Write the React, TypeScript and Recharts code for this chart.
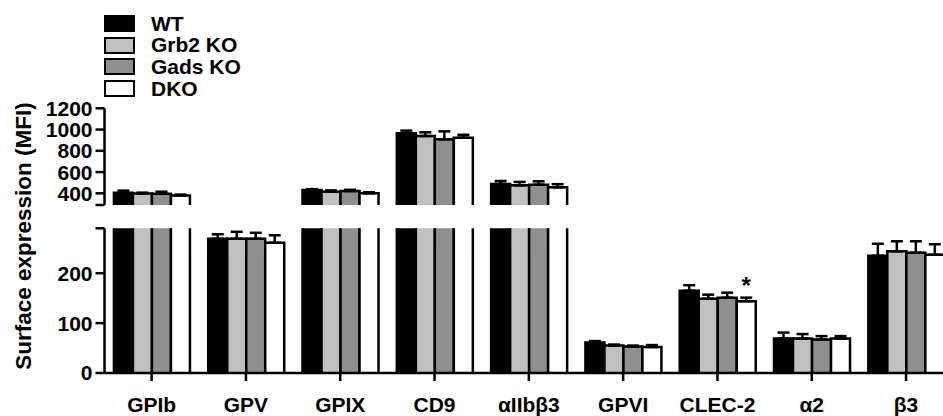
import React from 'react';
import { BarChart, Bar, XAxis, YAxis, ErrorBar, Legend, LabelList } from 'recharts';

const FONT = 'Arial, "Liberation Sans", Helvetica, sans-serif';

// axis break: lower panel 0-290, upper panel 290-1200
const BREAK = 290;
const LOWER_TICKS = [0, 100, 200, 290];
const UPPER_TICKS = [290, 400, 600, 800, 1000, 1200];

const CATEGORIES = ['GPIb', 'GPV', 'GPIX', 'CD9', 'αIIbβ3', 'GPVI', 'CLEC-2', 'α2', 'β3'];

const WT = [405, 269, 431, 965, 488, 61, 165, 69, 235];
const WT_ERR = [20, 9, 8, 25, 28, 3, 11, 12, 24];
const GRB2 = [398, 269, 415, 939, 475, 55, 149, 69, 244];
const GRB2_ERR = [8, 14, 12, 35, 32, 2, 8, 9, 20];
const GADS = [395, 269, 421, 908, 481, 53, 151, 67, 241];
const GADS_ERR = [20, 12, 12, 75, 32, 2, 10, 7, 23];
const DKO = [380, 261, 400, 923, 456, 52, 144, 69, 237];
const DKO_ERR = [8, 15, 10, 28, 30, 4, 7, 5, 21];
const SIG = ['', '', '', '', '', '', '*', '', ''];

const SERIES = [
  { key: 'wt', name: 'WT', values: WT, errors: WT_ERR, fill: '#000000' },
  { key: 'grb2', name: 'Grb2 KO', values: GRB2, errors: GRB2_ERR, fill: '#c0c0c0' },
  { key: 'gads', name: 'Gads KO', values: GADS, errors: GADS_ERR, fill: '#8f8f8f' },
  { key: 'dko', name: 'DKO', values: DKO, errors: DKO_ERR, fill: '#ffffff' },
];

const lowerData = CATEGORIES.map((name, i) => {
  const row: Record<string, any> = { name, sig: SIG[i] };
  SERIES.forEach((s) => {
    row[s.key] = s.values[i];
    row[s.key + 'Err'] = s.values[i] <= BREAK ? [0, s.errors[i]] : null;
  });
  return row;
});

const upperData = CATEGORIES.map((name, i) => {
  const row: Record<string, any> = { name };
  SERIES.forEach((s) => {
    const above = s.values[i] > BREAK;
    row[s.key] = above ? s.values[i] : null;
    row[s.key + 'Err'] = above ? [0, s.errors[i]] : null;
  });
  return row;
});

const W = 962;
const H = 416;
const AXIS_W = 104.5;
const axisStyle = { stroke: '#000', strokeWidth: 2.5 };
const tickStyle = { fill: '#000', fontSize: 21, fontWeight: 'bold', fontFamily: FONT };

// bar with left/top/right border only, so the cut at the axis break stays open
function OpenBar(props: any) {
  const { x, y, width, height, fill } = props;
  if (x == null || y == null || !width || !height) return null;
  return (
    <g>
      <rect x={x} y={y} width={width} height={height} fill={fill} />
      <path
        d={`M${x},${y + height}V${y}H${x + width}V${y + height}`}
        fill="none"
        stroke="#000"
        strokeWidth={2.5}
      />
    </g>
  );
}

function LegendBox() {
  return (
    <div style={{ fontFamily: FONT }}>
      {SERIES.map((s) => (
        <div key={s.key} style={{ display: 'flex', alignItems: 'center', height: 21.7 }}>
          <div
            style={{
              width: 31,
              height: 17,
              boxSizing: 'border-box',
              border: '2.5px solid #000',
              background: s.fill,
            }}
          />
          <span style={{ marginLeft: 16, fontSize: 21, fontWeight: 'bold', lineHeight: '21.7px', color: '#000' }}>
            {s.name}
          </span>
        </div>
      ))}
    </div>
  );
}

const breakLabel = (v: number) => (v === BREAK ? '' : String(v));

export default function App() {
  return (
    <div
      style={{
        position: 'fixed',
        left: 0,
        top: 0,
        width: 943,
        height: 416,
        overflow: 'hidden',
        background: '#fff',
      }}
    >
      <div style={{ position: 'absolute', left: 0, top: 0 }}>
        <BarChart
          width={W}
          height={H}
          data={upperData}
          margin={{ top: 108.3, right: W - 953.2, bottom: 211, left: 0 }}
          barCategoryGap="10%"
          barGap={0}
        >
          <XAxis dataKey="name" hide />
          <YAxis
            domain={[BREAK, 1200]}
            ticks={UPPER_TICKS}
            allowDataOverflow
            interval={0}
            width={AXIS_W}
            tickFormatter={breakLabel}
            tick={tickStyle}
            axisLine={axisStyle}
            tickLine={axisStyle}
            tickSize={9}
            tickMargin={3}
          />
          <Legend
            layout="vertical"
            align="center"
            verticalAlign="middle"
            wrapperStyle={{ top: 12.6, left: 104, width: 'auto' }}
            content={() => <LegendBox />}
          />
          {SERIES.map((s) => (
            <Bar key={s.key} dataKey={s.key} name={s.name} fill={s.fill} shape={OpenBar} isAnimationActive={false}>
              <ErrorBar dataKey={s.key + 'Err'} direction="y" width={6} stroke="#000" strokeWidth={2.5} />
            </Bar>
          ))}
        </BarChart>
      </div>
      <div style={{ position: 'absolute', left: 0, top: 0 }}>
        <BarChart
          width={W}
          height={H}
          data={lowerData}
          margin={{ top: 228.3, right: W - 953.2, bottom: 0, left: 0 }}
          barCategoryGap="10%"
          barGap={0}
        >
          <XAxis
            dataKey="name"
            interval={0}
            height={43}
            tick={tickStyle}
            axisLine={axisStyle}
            tickLine={axisStyle}
            tickSize={8}
            tickMargin={16}
          />
          <YAxis
            domain={[0, BREAK]}
            ticks={LOWER_TICKS}
            allowDataOverflow
            interval={0}
            width={AXIS_W}
            tickFormatter={breakLabel}
            tick={tickStyle}
            axisLine={axisStyle}
            tickLine={axisStyle}
            tickSize={9}
            tickMargin={3}
            label={{
              value: 'Surface expression (MFI)',
              angle: -90,
              position: 'center',
              dx: 23 - AXIS_W / 2,
              dy: 236 - (228.3 + 373) / 2,
              fill: '#000',
              fontSize: 22.5,
              fontWeight: 'bold',
              fontFamily: FONT,
            }}
          />
          {SERIES.map((s, idx) => (
            <Bar key={s.key} dataKey={s.key} name={s.name} fill={s.fill} shape={OpenBar} isAnimationActive={false}>
              <ErrorBar dataKey={s.key + 'Err'} direction="y" width={6} stroke="#000" strokeWidth={2.5} />
              {idx === SERIES.length - 1 && (
                <LabelList
                  dataKey="sig"
                  position="top"
                  offset={7}
                  fill="#000"
                  fontSize={24}
                  fontWeight="bold"
                  fontFamily={FONT}
                />
              )}
            </Bar>
          ))}
        </BarChart>
      </div>
    </div>
  );
}
